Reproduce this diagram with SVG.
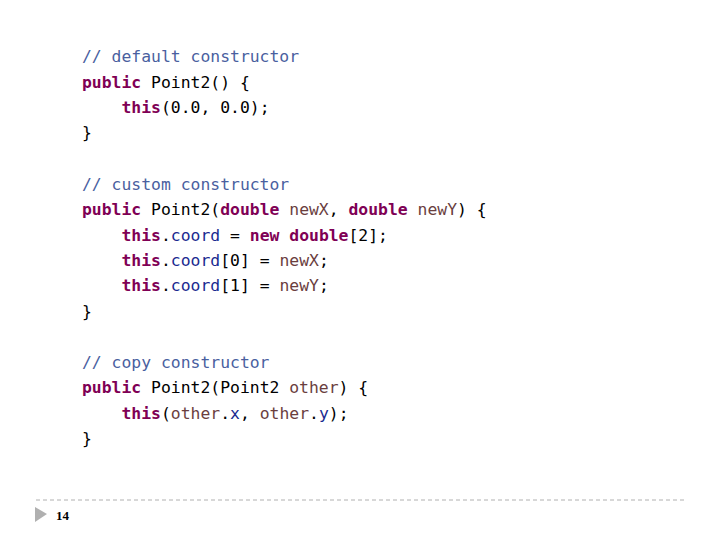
<svg xmlns="http://www.w3.org/2000/svg" width="720" height="540" viewBox="0 0 720 540">
<style>
text{font-family:"DejaVu Sans Mono","Liberation Mono",monospace;font-size:16.4px;fill:#000;white-space:pre}
.c{fill:#4a5f9f}.k{fill:#7f0055;font-weight:bold}.f{fill:#1a2a90}.p{fill:#6a3e3e}
</style>
<rect width="720" height="540" fill="#fff"/>
<g id="code" xml:space="preserve">
<text x="82" y="62" class="c">// default constructor</text>
<text x="82" y="88"><tspan class="k">public</tspan> Point2() {</text>
<text x="82" y="113">    <tspan class="k">this</tspan>(0.0, 0.0);</text>
<text x="82" y="138">}</text>
<text x="82" y="190" class="c">// custom constructor</text>
<text x="82" y="215"><tspan class="k">public</tspan> Point2(<tspan class="k">double</tspan> <tspan class="p">newX</tspan>, <tspan class="k">double</tspan> <tspan class="p">newY</tspan>) {</text>
<text x="82" y="241">    <tspan class="k">this</tspan>.<tspan class="f">coord</tspan> = <tspan class="k">new</tspan> <tspan class="k">double</tspan>[2];</text>
<text x="82" y="266">    <tspan class="k">this</tspan>.<tspan class="f">coord</tspan>[0] = <tspan class="p">newX</tspan>;</text>
<text x="82" y="291">    <tspan class="k">this</tspan>.<tspan class="f">coord</tspan>[1] = <tspan class="p">newY</tspan>;</text>
<text x="82" y="317">}</text>
<text x="82" y="368" class="c">// copy constructor</text>
<text x="82" y="393"><tspan class="k">public</tspan> Point2(Point2 <tspan class="p">other</tspan>) {</text>
<text x="82" y="419">    <tspan class="k">this</tspan>(<tspan class="p">other</tspan>.<tspan class="f">x</tspan>, <tspan class="p">other</tspan>.<tspan class="f">y</tspan>);</text>
<text x="82" y="444">}</text>
</g>
<g id="footer">
<line x1="36" y1="500" x2="686" y2="500" stroke="#b0b0b0" stroke-width="1" stroke-dasharray="4,3"/>
<polygon points="35,507 47,514 35,522" fill="#b0b0b0"/>
<text x="56" y="520" style="font-family:'Liberation Serif',serif;font-size:13px;font-weight:bold">14</text>
</g>
</svg>
